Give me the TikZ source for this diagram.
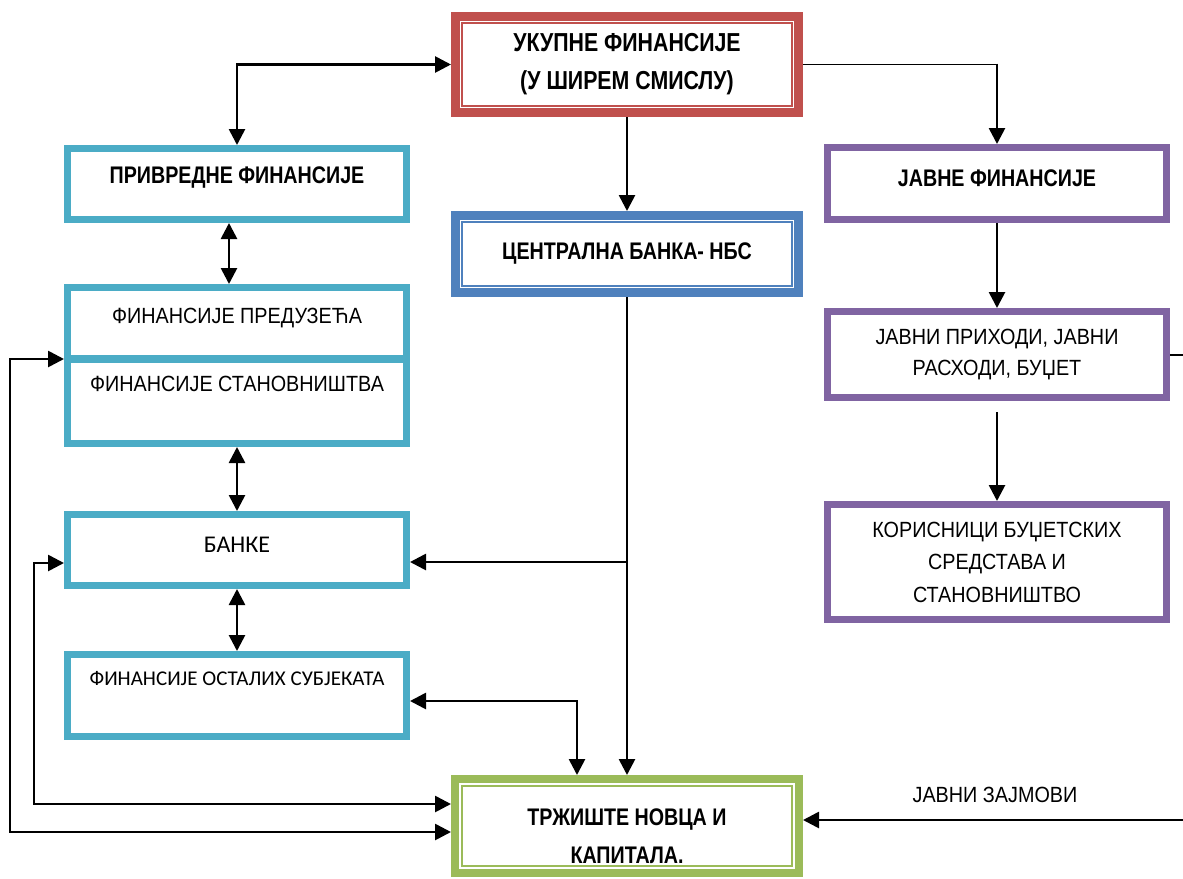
\documentclass[tikz,border=0pt]{standalone}
\usepackage{fontspec}
\setmainfont{Liberation Sans}
\newfontfamily\headfont{Liberation Sans}[FakeStretch=0.82]
\newfontfamily\bodyfont{Liberation Sans}[FakeStretch=0.9]
\newfontfamily\calfont{Carlito}
\usetikzlibrary{arrows.meta}
\definecolor{boxred}{HTML}{C0504D}
\definecolor{boxblue}{HTML}{4F81BD}
\definecolor{boxgreen}{HTML}{9BBB59}
\definecolor{boxaqua}{HTML}{4BACC6}
\definecolor{boxpurple}{HTML}{8064A2}
% move the ink of a line up or down without changing its box
\newcommand\liftby[2]{\raisebox{#1}[\height][\depth]{#2}}

\begin{document}
\begin{tikzpicture}[x=1pt,y=-1pt,
  box/.style={draw=#1, line width=7pt, inner sep=0pt, align=center},
  dblbox/.style={draw=#1, line width=9pt, inner sep=0pt, align=center},
  rim/.style={draw=#1, line width=1.6pt},
  headtext/.style={font=\headfont\bfseries\fontsize{#1}{38}\selectfont},
  bodytext/.style={font=\bodyfont\fontsize{22}{#1}\selectfont},
  link/.style={line width=2.7pt},
  arr/.style={link, -{Triangle[length=16pt,width=16pt]}},
  twoway/.style={link, {Triangle[length=16pt,width=16pt]}-{Triangle[length=16pt,width=16pt]}},
]
\useasboundingbox (0,0) rectangle (1183,878);

% centre column
\node[dblbox=boxred, headtext=26, minimum width=343pt, minimum height=96pt]
  (top) at (627,64.5) {УКУПНЕ ФИНАНСИЈЕ\\(У ШИРЕМ СМИСЛУ)};
\draw[rim=boxred] ([shift={(11,11)}]top.north west) rectangle ([shift={(-11,-11)}]top.south east);

\node[dblbox=boxblue, headtext=24, minimum width=343pt, minimum height=77pt]
  (cb) at (627,254) {ЦЕНТРАЛНА БАНКА- НБС};
\draw[rim=boxblue] ([shift={(11,11)}]cb.north west) rectangle ([shift={(-11,-11)}]cb.south east);

\node[dblbox=boxgreen, line width=8pt, headtext=24, minimum width=344pt, minimum height=94pt]
  (trz) at (627,826) {\liftby{-10pt}{ТРЖИШТЕ НОВЦА И}\\\liftby{-10pt}{КАПИТАЛА.}};
\draw[rim=boxgreen] ([shift={(11,11)}]trz.north west) rectangle ([shift={(-11,-11)}]trz.south east);

% left column
\node[box=boxaqua, headtext=24, minimum width=339pt, minimum height=71pt]
  (priv) at (237,184) {\liftby{6pt}{ПРИВРЕДНЕ ФИНАНСИЈЕ}};
\node[box=boxaqua, bodytext=26, minimum width=339pt, minimum height=71pt]
  (pred) at (237,323) {\liftby{5pt}{ФИНАНСИЈЕ ПРЕДУЗЕЋА}};
\node[box=boxaqua, bodytext=26, minimum width=339pt, minimum height=84pt]
  (stan) at (237,401.5) {\liftby{18pt}{ФИНАНСИЈЕ СТАНОВНИШТВА}};
\node[box=boxaqua, font=\calfont\fontsize{24}{28}\selectfont, minimum width=339pt, minimum height=71pt]
  (banke) at (237,550) {\liftby{5pt}{БАНКЕ}};
\node[box=boxaqua, font=\calfont\fontsize{21}{26}\selectfont, minimum width=339pt, minimum height=82pt]
  (ost) at (237,695.5) {\liftby{17pt}{ФИНАНСИЈЕ ОСТАЛИХ СУБЈЕКАТА}};

% right column
\node[box=boxpurple, headtext=24, minimum width=339pt, minimum height=72pt]
  (javne) at (997,183.5) {\liftby{5pt}{ЈАВНЕ ФИНАНСИЈЕ}};
\node[box=boxpurple, bodytext=31, minimum width=339pt, minimum height=86pt]
  (prih) at (997,354.5) {ЈАВНИ ПРИХОДИ, ЈАВНИ\\РАСХОДИ, БУЏЕТ};
\node[box=boxpurple, bodytext=32.5, minimum width=339pt, minimum height=115pt]
  (kor) at (997,562) {КОРИСНИЦИ БУЏЕТСКИХ\\СРЕДСТАВА И\\СТАНОВНИШТВО};

\node[bodytext=26, inner sep=0pt] (zaj) at (995,795) {ЈАВНИ ЗАЈМОВИ};

% turning points of the connectors
\coordinate (hub) at (627,562);
\coordinate (oc) at (577,701);
\coordinate (ol) at (10,832);
\coordinate (il) at (34,804);
\coordinate (re) at (1195,354.5);
\coordinate (zr) at (1195,820);

% connectors
\draw[twoway] (priv.north) |- (top.west);
\draw[line width=1.6pt] (top.east) -- ([xshift=1.3pt]top.east -| javne.north);
\draw[arr] ([yshift=0.8pt]top.east -| javne.north) -- (javne.north);
\draw[arr] (top.south) -- (cb.north);
\draw[twoway] ([xshift=-8pt]priv.south) -- ([xshift=-8pt]pred.north);
\draw[twoway] (stan.south) -- (banke.north);
\draw[twoway] (banke.south) -- (ost.north);
\draw[arr] (cb.south) -- (trz.north);
\draw[arr] (hub) -- (hub -| banke.east);
\draw[twoway] (ost.east |- oc) -| (oc |- trz.north);
\draw[twoway] ([yshift=3pt]pred.south west) -| (ol) -- (ol -| trz.west);
\draw[twoway] ([yshift=-13pt]banke.west) -| (il) -- (il -| trz.west);
\draw[arr] (javne.south) -- (prih.north);
\draw[arr] ([yshift=-11pt]prih.south) -- (kor.north);
\draw[line width=2pt] (prih.east) -- (re);
\draw[arr] (zr) -- (zr -| trz.east);
\end{tikzpicture}
\end{document}
